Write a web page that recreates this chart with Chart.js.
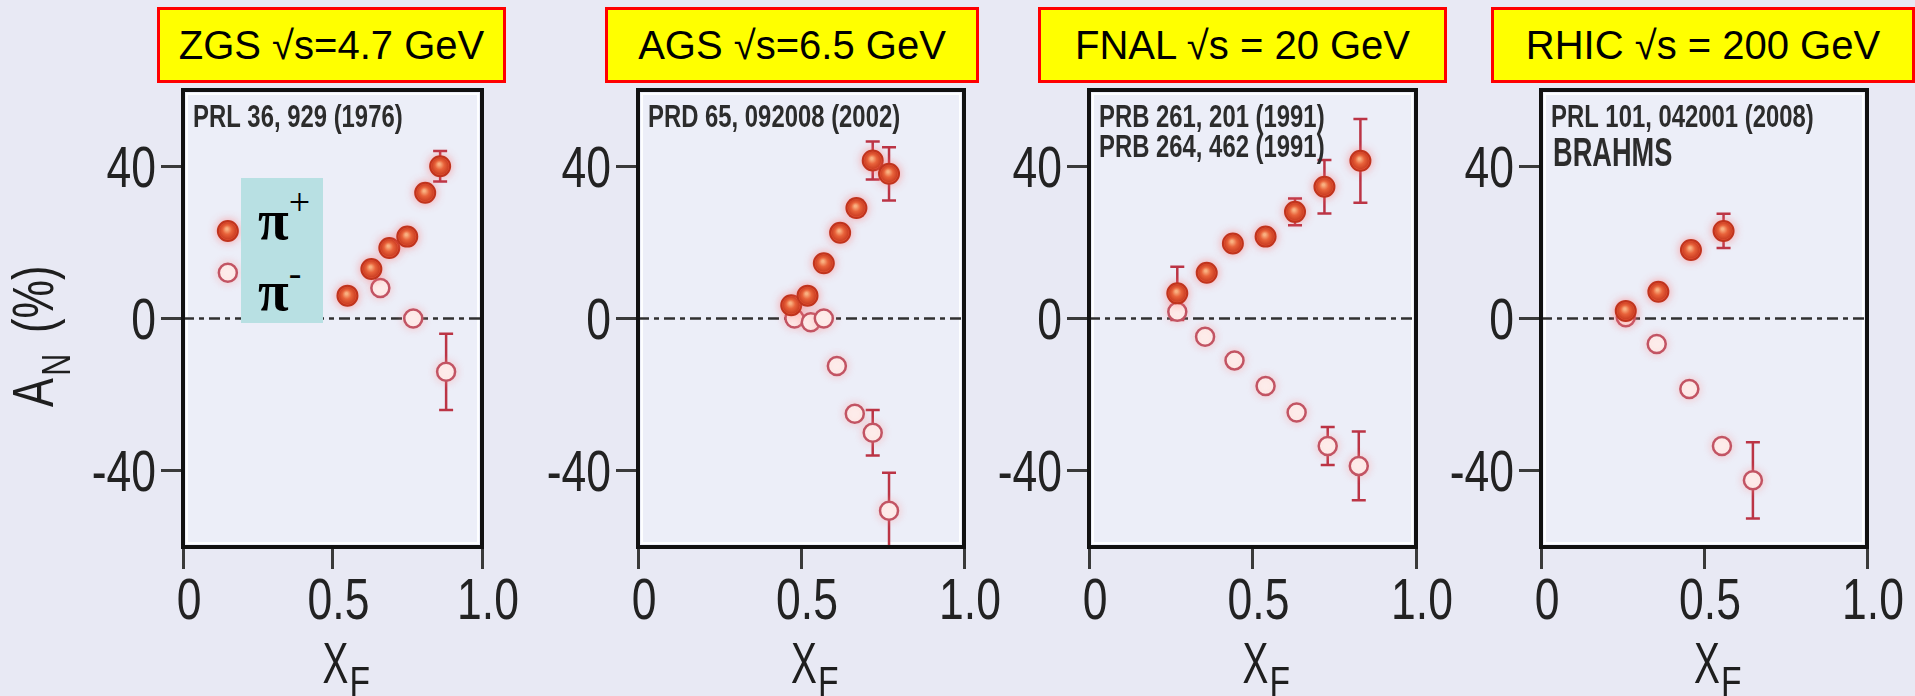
<!DOCTYPE html>
<html>
<head>
<meta charset="utf-8">
<title>A_N vs x_F</title>
<script src="https://cdn.jsdelivr.net/npm/chart.js@4.4.1/dist/chart.umd.min.js"></script>
<style>
  body { margin: 0; background: #e8e9f4; }
  #page { position: relative; width: 1915px; height: 696px; overflow: hidden; background: #e8e9f4; }
  #page canvas { position: absolute; top: 0; }
  .title-box {
    position: absolute; top: 7px; height: 76px; box-sizing: border-box;
    border: 3px solid #ff0000; background: #ffff00; color: #000;
    font-family: "Liberation Sans", Arial, sans-serif; font-size: 40px;
    display: flex; align-items: center; justify-content: center; white-space: nowrap;
  }
  #pion-key {
    position: absolute; left: 241px; top: 178px; width: 82px; height: 145px;
    background: #b8e0e3; box-sizing: border-box; padding: 10px 0 0 17px;
    font-family: "Liberation Serif", "DejaVu Serif", serif; font-size: 56px; font-weight: bold;
    line-height: 65px; color: #000;
  }
  #pion-key .sup { position: relative; top: -24px; font-size: 38px; font-weight: normal; }
</style>
</head>
<body>
<div id="page">
  <div id="pion-key"><div>π<span class="sup">+</span></div><div>π<span class="sup">-</span></div></div>
</div>
<script>
// ---- data (A_N in %, x_F) ----
const panelTitles = ["ZGS √s=4.7 GeV", "AGS √s=6.5 GeV", "FNAL √s = 20 GeV", "RHIC √s = 200 GeV"];

const xTicks = [0, 0.5, 1.0];
const yTicks = [-40, 0, 40];

// ZGS
const zgsRefs = ["PRL 36, 929 (1976)"];
const zgsPlusX = [0.15, 0.55, 0.63, 0.69, 0.75, 0.81, 0.86];
const zgsPlusY = [23, 6, 13, 18.5, 21.5, 33, 40];
const zgsPlusErr = [0, 0, 0, 0, 0, 0, 4];
const zgsMinusX = [0.15, 0.66, 0.77, 0.88];
const zgsMinusY = [12, 8, 0, -14];
const zgsMinusErr = [0, 0, 0, 10];

// AGS
const agsRefs = ["PRD 65, 092008 (2002)"];
const agsPlusX = [0.47, 0.52, 0.57, 0.62, 0.67, 0.72, 0.77];
const agsPlusY = [3.5, 6, 14.5, 22.5, 29, 41.5, 38];
const agsPlusErr = [0, 0, 0, 0, 2, 5, 7];
const agsMinusX = [0.48, 0.53, 0.57, 0.61, 0.665, 0.72, 0.77];
const agsMinusY = [0, -1, 0, -12.5, -25, -30, -50.5];
const agsMinusErr = [0, 0, 0, 0, 0, 6, 10];

// FNAL
const fnalRefs = ["PRB 261, 201 (1991)", "PRB 264, 462 (1991)"];
const fnalPlusX = [0.27, 0.36, 0.44, 0.54, 0.63, 0.72, 0.83];
const fnalPlusY = [6.6, 12, 19.7, 21.5, 28, 34.6, 41.4];
const fnalPlusErr = [7, 0, 0, 0, 3.5, 7, 11];
const fnalMinusX = [0.27, 0.355, 0.445, 0.54, 0.635, 0.73, 0.825];
const fnalMinusY = [1.8, -4.8, -11, -17.7, -24.7, -33.5, -38.7];
const fnalMinusErr = [0, 0, 0, 0, 0, 5, 9];

// RHIC
const rhicRefs = ["PRL 101, 042001 (2008)", "BRAHMS"];
const rhicPlusX = [0.26, 0.36, 0.46, 0.56];
const rhicPlusY = [2, 7, 18, 23];
const rhicPlusErr = [0, 0, 0, 4.5];
const rhicMinusX = [0.26, 0.355, 0.455, 0.555, 0.65];
const rhicMinusY = [0.3, -6.7, -18.5, -33.5, -42.5];
const rhicMinusErr = [0, 0, 0, 0, 10];

// ---- layout ----
const PLOT_TOP = 90;
const PLOT_BOTTOM = 547;
const H = 696;
const SANS = "'Liberation Sans', Arial, sans-serif";

const panelLayout = [
  { left: 0,    width: 540, plotLeft: 183,  plotRight: 482,  boxLeft: 157,  boxWidth: 349 },
  { left: 508,  width: 501, plotLeft: 638,  plotRight: 964,  boxLeft: 605,  boxWidth: 374 },
  { left: 959,  width: 502, plotLeft: 1089, plotRight: 1416, boxLeft: 1038, boxWidth: 409 },
  { left: 1411, width: 504, plotLeft: 1541, plotRight: 1867, boxLeft: 1491, boxWidth: 424 }
];

const panelData = [
  { refs: zgsRefs,  px: zgsPlusX,  py: zgsPlusY,  pe: zgsPlusErr,  mx: zgsMinusX,  my: zgsMinusY,  me: zgsMinusErr },
  { refs: agsRefs,  px: agsPlusX,  py: agsPlusY,  pe: agsPlusErr,  mx: agsMinusX,  my: agsMinusY,  me: agsMinusErr },
  { refs: fnalRefs, px: fnalPlusX, py: fnalPlusY, pe: fnalPlusErr, mx: fnalMinusX, my: fnalMinusY, me: fnalMinusErr },
  { refs: rhicRefs, px: rhicPlusX, py: rhicPlusY, pe: rhicPlusErr, mx: rhicMinusX, my: rhicMinusY, me: rhicMinusErr }
];

function toPoints(xs, ys) {
  return xs.map((x, i) => ({ x: x, y: ys[i] }));
}

function xTickLabel(v) {
  return v === 0 ? '0' : v.toFixed(1);
}

// the original uses a condensed face; squeeze Liberation Sans horizontally
function narrowText(ctx, text, x, y, sx, align) {
  ctx.save();
  ctx.translate(x, y);
  ctx.scale(sx, 1);
  ctx.textAlign = align;
  ctx.fillText(text, 0, 0);
  ctx.restore();
}

// frame, zero line, error bars, tick labels, reference text and axis titles
const panelDeco = {
  id: 'panelDeco',
  beforeDraw(chart) {
    const { ctx, chartArea: a } = chart;
    ctx.save();
    ctx.fillStyle = '#eceef8';
    ctx.fillRect(a.left, a.top, a.width, a.height);
    ctx.strokeStyle = 'rgba(255,255,255,0.9)';
    ctx.lineWidth = 2;
    ctx.strokeRect(a.left + 4, a.top + 4, a.width - 8, a.height - 8);
    ctx.restore();
  },
  beforeDatasetsDraw(chart) {
    const { ctx, chartArea: a, scales: { x, y } } = chart;
    ctx.save();
    const y0 = y.getPixelForValue(0);
    ctx.strokeStyle = '#303030';
    ctx.lineWidth = 2.5;
    ctx.setLineDash([11, 5, 5, 5]);
    ctx.beginPath();
    ctx.moveTo(a.left, y0);
    ctx.lineTo(a.right, y0);
    ctx.stroke();
    ctx.setLineDash([]);

    ctx.beginPath();
    ctx.rect(a.left, a.top, a.width, a.height);
    ctx.clip();
    ctx.strokeStyle = '#bb3445';
    ctx.lineWidth = 2.5;
    chart.data.datasets.forEach(ds => {
      ds.errors.forEach((e, i) => {
        if (!e) return;
        const p = ds.data[i];
        const px = x.getPixelForValue(p.x);
        const top = y.getPixelForValue(p.y + e);
        const bot = y.getPixelForValue(p.y - e);
        ctx.beginPath();
        ctx.moveTo(px, top); ctx.lineTo(px, bot);
        ctx.moveTo(px - 7, top); ctx.lineTo(px + 7, top);
        ctx.moveTo(px - 7, bot); ctx.lineTo(px + 7, bot);
        ctx.stroke();
      });
    });
    ctx.restore();
  },
  beforeDatasetDraw(chart, args) {
    const ctx = chart.ctx;
    ctx.shadowColor = args.index === 0 ? 'rgba(255,110,110,0.55)' : 'rgba(255,150,150,0.45)';
    ctx.shadowBlur = 8;
  },
  afterDatasetDraw(chart, args) {
    const ctx = chart.ctx;
    ctx.shadowColor = 'rgba(0,0,0,0)';
    ctx.shadowBlur = 0;
    if (args.index !== 0) return;
    // shaded ball look for the pi+ points
    args.meta.data.forEach(el => {
      const g = ctx.createRadialGradient(el.x - 1, el.y - 2, 1, el.x, el.y, 9);
      g.addColorStop(0, '#f9b080');
      g.addColorStop(0.45, '#e8623a');
      g.addColorStop(1, '#c83a20');
      ctx.beginPath();
      ctx.arc(el.x, el.y, 8.5, 0, Math.PI * 2);
      ctx.fillStyle = g;
      ctx.fill();
    });
  },
  afterDraw(chart, args, opts) {
    const { ctx, chartArea: a, scales: { x, y } } = chart;
    ctx.save();
    ctx.strokeStyle = '#111';
    ctx.lineWidth = 4;
    ctx.strokeRect(a.left, a.top, a.width, a.height);

    // tick labels at the scale's own tick positions
    ctx.fillStyle = '#222';
    ctx.textBaseline = 'alphabetic';
    ctx.font = `57px ${SANS}`;
    x.ticks.forEach(t => {
      narrowText(ctx, xTickLabel(t.value), x.getPixelForValue(t.value) + 6, 619, 0.78, 'center');
    });
    y.ticks.forEach(t => {
      narrowText(ctx, String(t.value), a.left - 27, y.getPixelForValue(t.value) + 20.5, 0.78, 'right');
    });

    // reference lines in the upper-left corner
    ctx.fillStyle = '#2c2c2c';
    opts.refs.forEach((t, i) => {
      if (t === 'BRAHMS') {
        ctx.font = `bold 40px ${SANS}`;
        narrowText(ctx, t, a.left + 12, 166, 0.68, 'left');
      } else {
        ctx.font = `bold 31px ${SANS}`;
        narrowText(ctx, t, a.left + 10, 127 + i * 30, 0.77, 'left');
      }
    });

    // x title X_F
    ctx.fillStyle = '#1e1e1e';
    const xc = x.getPixelForValue(0.5) + 3;
    ctx.font = `57px ${SANS}`;
    const wX = ctx.measureText('X').width * 0.68;
    narrowText(ctx, 'X', xc, 683, 0.68, 'center');
    ctx.font = `42px ${SANS}`;
    narrowText(ctx, 'F', xc + wX / 2 + 1, 696, 0.8, 'left');

    // y title A_N (%), first panel only
    if (opts.yTitle) {
      ctx.translate(53, 407);
      ctx.rotate(-Math.PI / 2);
      ctx.scale(0.76, 1);
      ctx.textAlign = 'left';
      ctx.font = `57px ${SANS}`;
      const wA = ctx.measureText('A').width;
      ctx.fillText('A', 0, 0);
      ctx.font = `40px ${SANS}`;
      ctx.fillText('N', wA + 3, 17);
      ctx.font = `57px ${SANS}`;
      ctx.fillText('(%)', 74 / 0.76, 0);
    }
    ctx.restore();
  }
};

function makePanel(i) {
  const lay = panelLayout[i];
  const d = panelData[i];
  const page = document.getElementById('page');

  const canvas = document.createElement('canvas');
  canvas.width = lay.width;
  canvas.height = H;
  canvas.style.left = lay.left + 'px';
  page.insertBefore(canvas, page.firstChild);

  const box = document.createElement('div');
  box.className = 'title-box';
  box.style.left = lay.boxLeft + 'px';
  box.style.width = lay.boxWidth + 'px';
  box.textContent = panelTitles[i];
  page.appendChild(box);

  new Chart(canvas.getContext('2d'), {
    type: 'scatter',
    data: {
      datasets: [
        {
          label: 'π+', data: toPoints(d.px, d.py), errors: d.pe,
          pointRadius: 10, pointBackgroundColor: '#e0502e',
          pointBorderColor: '#c0341d', pointBorderWidth: 2
        },
        {
          label: 'π-', data: toPoints(d.mx, d.my), errors: d.me,
          pointRadius: 9, pointBackgroundColor: '#fdf3f1',
          pointBorderColor: '#c25463', pointBorderWidth: 2.5
        }
      ]
    },
    options: {
      responsive: false,
      animation: false,
      layout: { padding: { top: PLOT_TOP, right: lay.left + lay.width - lay.plotRight, left: 0, bottom: 0 } },
      plugins: {
        legend: { display: false },
        tooltip: { enabled: false },
        panelDeco: { refs: d.refs, yTitle: i === 0 }
      },
      scales: {
        x: {
          type: 'linear', min: 0, max: 1,
          afterBuildTicks: s => { s.ticks = xTicks.map(v => ({ value: v })); },
          afterFit: s => { s.height = H - PLOT_BOTTOM; },
          grid: { drawOnChartArea: false, drawTicks: true, tickLength: 22, tickWidth: 3, tickColor: '#3a3a3a' },
          border: { display: true, color: '#111', width: 4 },
          ticks: { display: false }
        },
        y: {
          type: 'linear', min: -60, max: 60,
          afterBuildTicks: s => { s.ticks = yTicks.map(v => ({ value: v })); },
          afterFit: s => { s.width = lay.plotLeft - lay.left; },
          grid: { drawOnChartArea: false, drawTicks: true, tickLength: 22, tickWidth: 3, tickColor: '#3a3a3a' },
          border: { display: true, color: '#111', width: 4 },
          ticks: { display: false }
        }
      }
    },
    plugins: [panelDeco]
  });
}

for (let i = 0; i < 4; i++) makePanel(i);
</script>
</body>
</html>
